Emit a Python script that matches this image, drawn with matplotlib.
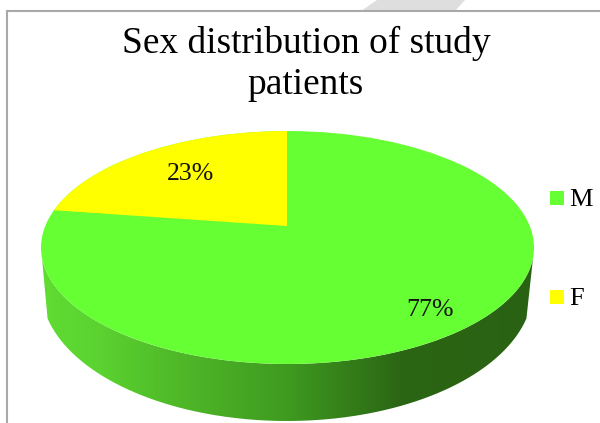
import numpy as np
import matplotlib
matplotlib.use("Agg")
import matplotlib.pyplot as plt
from matplotlib.patches import Ellipse, Polygon, Rectangle, PathPatch
from matplotlib.path import Path
from matplotlib.colors import LinearSegmentedColormap

categories = ["M", "F"]
shares = [77, 23]
slice_colors = ["#66FF33", "#FFFF00"]
title = "Sex distribution of study\npatients"

W, H = 600, 423
fig = plt.figure(figsize=(W / 100, H / 100), dpi=100, facecolor="white")
ax = fig.add_axes([0, 0, 1, 1])
ax.set_xlim(0, W)
ax.set_ylim(H, 0)
ax.axis("off")
plt.rcParams["font.family"] = ["Liberation Serif", "DejaVu Serif"]

# page furniture
ax.add_patch(Polygon([(377, 0), (465, 0), (455, 11), (361, 11)], fc="#DEDEDE", ec="none", zorder=0))
ax.plot([6.5, 6.5, 600], [423, 11.5, 11.5], color="#A9A9A9", lw=1.5, zorder=1, solid_joinstyle="miter")

# geometry of the tilted disc
cx, cy, rx, ry = 287.5, 247.5, 246.5, 116.5
bx, by, brx, bry = 287.0, 288.0, 246.0, 133.0
apex = (287.0, 226.0)

# side wall: lower ellipse arc, joined to the top ellipse by short straight edges
t_low = np.radians(np.linspace(166.7, 13.3, 300))
t_top = np.radians(np.linspace(5, 175, 300))
outline = np.vstack([
    np.c_[bx + brx * np.cos(t_low), by + bry * np.sin(t_low)],
    np.c_[cx + rx * np.cos(t_top), cy + ry * np.sin(t_top)],
])
side = PathPatch(Path(outline), fc="none", ec="none")
ax.add_patch(side)
cmap = LinearSegmentedColormap.from_list(
    "side",
    [(0.0, "#60DC32"), (0.12, "#5AD230"), (0.28, "#4FB828"), (0.5, "#3F9A20"),
     (0.73, "#2B6614"), (1.0, "#2A6213")],
)
im = ax.imshow(
    np.linspace(0, 1, 400).reshape(1, -1), extent=(41, 534, 423, 240),
    cmap=cmap, aspect="auto", zorder=2, interpolation="bilinear",
)
im.set_clip_path(side)
ax.set_xlim(0, W)
ax.set_ylim(H, 0)

# top surface
disc = Ellipse((cx, cy), 2 * rx, 2 * ry, fc=slice_colors[0], ec="none", zorder=3)
ax.add_patch(disc)
theta = np.linspace(0, 2 * np.pi * shares[1] / sum(shares), 80)
pts = [apex] + [(apex[0] - 3 * rx * np.sin(a), apex[1] - 3 * 132 * np.cos(a)) for a in theta]
wedge = Polygon(pts, fc=slice_colors[1], ec="none", zorder=4)
ax.add_patch(wedge)
wedge.set_clip_path(disc)

# labels
ax.text(190.5, 173.5, f"{shares[1]}%", ha="center", va="center", fontsize=18.6, color="#111111", zorder=6)
ax.text(430.5, 309.5, f"{shares[0]}%", ha="center", va="center", fontsize=18.6, color="#111111", zorder=6)

# title
ax.text(306, 63.5, title, ha="center", va="center", fontsize=26.9, linespacing=1.24, color="black", zorder=6)

# legend
for name, colour, y in zip(categories, slice_colors, [191, 290]):
    ax.add_patch(Rectangle((550, y), 14, 14, fc=colour, ec="none", zorder=6))
    ax.text(569.5, y + 9, name, ha="left", va="center", fontsize=19, color="black", zorder=6)

fig.savefig("out.png", dpi=100)
